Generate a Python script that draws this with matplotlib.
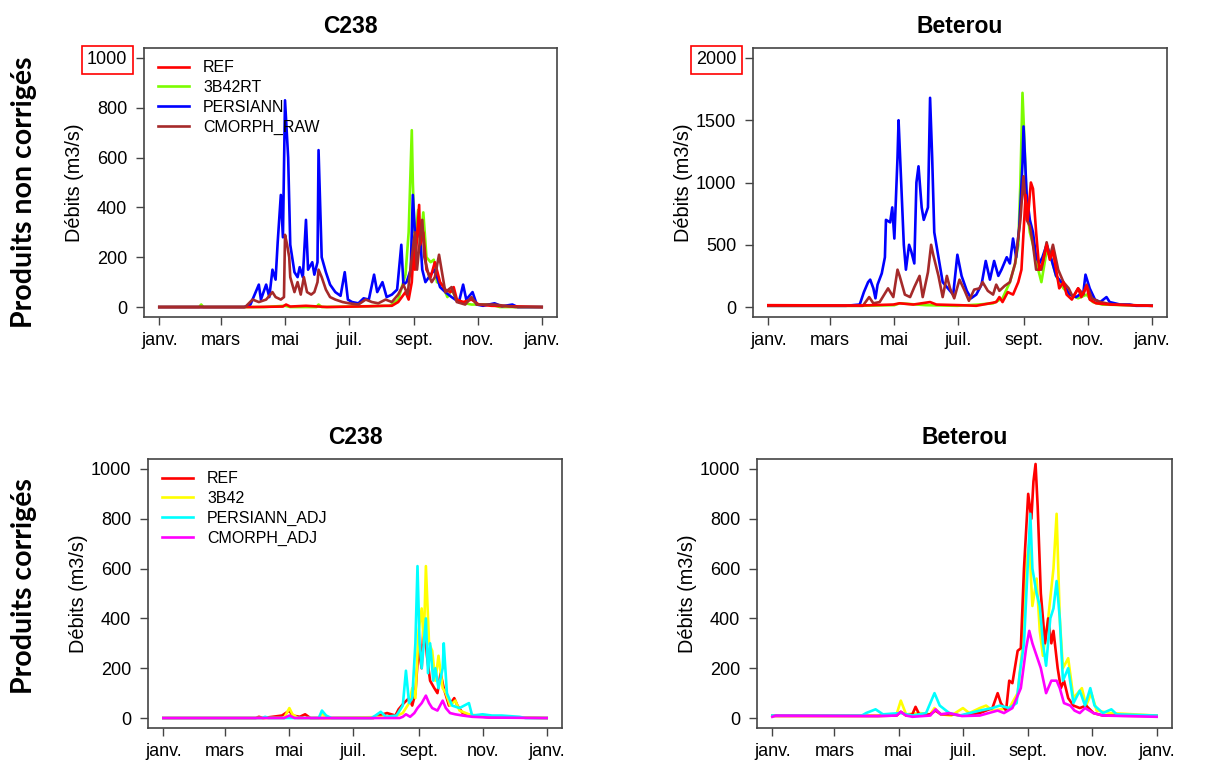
import matplotlib
matplotlib.use('Agg')
import matplotlib.pyplot as plt

# day of year (0 = 1 janv.) and discharge (m3/s)

# --- C238, produits non corrigés ---
c238_raw_ref_days = [0, 90, 118, 121, 125, 140, 160, 200, 215, 222, 228, 235, 238, 241, 243, 244, 248, 249, 252, 255, 259, 263, 268, 273, 278, 281, 284, 290, 298, 305, 317, 365]
c238_raw_ref_q = [0, 0, 2, 10, 2, 5, 0, 3, 5, 5, 20, 60, 30, 100, 250, 150, 410, 250, 300, 150, 120, 180, 100, 70, 60, 80, 30, 20, 30, 10, 5, 0]

c238_raw_3b42rt_days = [0, 38, 40, 42, 100, 120, 125, 150, 152, 155, 220, 228, 235, 238, 241, 242, 244, 247, 249, 252, 255, 259, 262, 265, 270, 275, 279, 284, 292, 298, 317, 325, 365]
c238_raw_3b42rt_q = [0, 0, 10, 0, 0, 5, 0, 0, 10, 0, 5, 30, 130, 300, 710, 500, 250, 390, 250, 380, 200, 180, 190, 100, 90, 40, 70, 30, 15, 10, 10, 0, 0]

c238_raw_persiann_days = [0, 81, 87, 92, 95, 97, 102, 105, 108, 111, 113, 116, 118, 120, 123, 125, 129, 132, 134, 137,
                          140, 142, 146, 148, 151, 152, 155, 159, 163, 168, 173, 177, 180, 184, 190, 195, 200, 205, 208, 213,
                          217, 222, 227, 231, 233, 236, 240, 242, 244, 246, 248, 251, 254, 259, 263, 268, 273, 279, 286, 290,
                          293, 299, 303, 309, 320, 327, 337, 342, 365]
c238_raw_persiann_q = [0, 0, 10, 60, 90, 30, 90, 40, 150, 110, 260, 450, 280, 830, 600, 250, 140, 120, 160, 120,
                       350, 150, 180, 130, 180, 630, 200, 140, 90, 60, 45, 140, 30, 20, 15, 35, 30, 130, 60, 100,
                       40, 50, 70, 250, 90, 100, 150, 450, 300, 280, 350, 150, 100, 130, 150, 80, 60, 40, 20, 90,
                       30, 60, 10, 5, 15, 3, 10, 0, 0]

c238_raw_cmorph_days = [0, 82, 89, 95, 102, 108, 111, 116, 119, 120, 122, 124, 125, 129, 132, 135, 138, 141, 145, 148,
                        151, 152, 155, 159, 163, 168, 175, 181, 190, 197, 203, 209, 216, 222, 228, 233, 237, 241, 244, 246,
                        249, 251, 253, 257, 260, 263, 267, 269, 273, 279, 284, 292, 298, 303, 320, 340, 365]
c238_raw_cmorph_q = [0, 0, 30, 20, 30, 60, 40, 30, 40, 290, 250, 200, 120, 60, 100, 50, 120, 60, 50, 60,
                     100, 150, 120, 70, 40, 30, 20, 15, 10, 30, 20, 15, 30, 20, 50, 90, 50, 200, 300, 150,
                     280, 350, 200, 130, 100, 120, 210, 160, 60, 80, 20, 10, 40, 10, 10, 0, 0]

# --- Beterou, produits non corrigés ---
bet_raw_ref_days = [0, 87, 119, 125, 138, 154, 160, 182, 198, 211, 217, 220, 223, 228, 233, 238, 241, 243, 245, 247,
                    250, 252, 255, 258, 261, 265, 268, 271, 274, 277, 281, 284, 289, 295, 298, 303, 306, 312, 325, 365]
bet_raw_ref_q = [15, 12, 20, 30, 20, 40, 20, 15, 10, 30, 40, 80, 40, 120, 100, 200, 300, 600, 900, 700,
                 1000, 950, 600, 300, 350, 500, 380, 450, 300, 150, 200, 100, 60, 150, 80, 170, 60, 30, 20, 10]

bet_raw_3b42rt_days = [0, 87, 120, 125, 150, 180, 200, 214, 223, 230, 235, 238, 240, 242, 244, 246, 249, 252, 257, 260,
                       265, 269, 274, 281, 287, 295, 303, 309, 318, 365]
bet_raw_3b42rt_q = [10, 10, 15, 30, 15, 10, 20, 30, 70, 200, 350, 500, 1000, 1720, 1300, 800, 600, 500, 300, 200,
                    450, 400, 250, 150, 100, 70, 100, 40, 20, 10]

bet_raw_persiann_days = [0, 74, 87, 91, 95, 97, 100, 102, 104, 108, 111, 112, 116, 118, 120, 123, 124, 127, 129, 131,
                         134, 136, 139, 141, 143, 146, 148, 152, 154, 156, 158, 162, 166, 171, 176, 180, 184, 189, 193, 198,
                         203, 207, 211, 215, 219, 222, 227, 230, 233, 236, 239, 242, 243, 246, 249, 252, 255, 258, 261, 265,
                         269, 274, 281, 287, 293, 300, 302, 306, 311, 316, 322, 325, 335, 344, 350, 365]
bet_raw_persiann_q = [10, 10, 20, 120, 200, 220, 150, 70, 180, 270, 400, 700, 680, 800, 550, 1200, 1500, 900, 500, 300,
                      500, 450, 350, 1000, 1130, 800, 700, 800, 1680, 1200, 600, 400, 200, 150, 100, 420, 250, 130, 70, 100,
                      180, 370, 220, 370, 250, 300, 400, 350, 550, 400, 650, 1150, 1450, 900, 700, 600, 400, 350, 400, 500,
                      400, 250, 180, 100, 80, 120, 260, 150, 60, 40, 80, 40, 20, 20, 10, 10]

bet_raw_cmorph_days = [0, 90, 96, 100, 106, 114, 119, 123, 125, 130, 135, 139, 144, 147, 152, 155, 157, 162, 166, 170,
                       173, 177, 182, 187, 191, 196, 201, 204, 209, 214, 217, 220, 225, 230, 235, 240, 243, 246, 249, 252,
                       255, 260, 265, 268, 271, 276, 281, 286, 290, 295, 300, 303, 308, 316, 328, 365]
bet_raw_cmorph_q = [10, 10, 80, 30, 40, 150, 80, 300, 250, 100, 80, 160, 250, 80, 280, 500, 420, 250, 80, 250,
                    150, 70, 220, 130, 50, 140, 150, 200, 130, 100, 180, 130, 170, 200, 350, 700, 1050, 700, 650, 500,
                    300, 300, 520, 400, 500, 300, 200, 150, 80, 150, 100, 180, 70, 40, 20, 10]

# --- C238, produits corrigés ---
c238_adj_ref_days = [0, 88, 91, 95, 113, 120, 123, 130, 135, 140, 200, 205, 213, 221, 224, 229, 234, 237, 240, 243,
                     246, 248, 251, 254, 258, 261, 264, 267, 272, 277, 280, 285, 294, 310, 365]
c238_adj_ref_q = [0, 0, 5, 0, 10, 30, 10, 5, 15, 0, 0, 10, 20, 10, 35, 60, 80, 50, 100, 280,
                  200, 400, 250, 150, 120, 100, 180, 120, 50, 80, 50, 20, 10, 3, 0]

c238_adj_3b42_days = [0, 115, 120, 123, 128, 148, 151, 155, 220, 228, 234, 237, 240, 243, 246, 248, 250, 253, 256, 259,
                      262, 266, 269, 273, 278, 282, 291, 307, 365]
c238_adj_3b42_q = [0, 0, 40, 15, 0, 0, 20, 0, 5, 20, 60, 120, 80, 350, 440, 300, 610, 300, 270, 150,
                   250, 120, 100, 50, 70, 30, 15, 5, 0]

c238_adj_persiann_days = [0, 94, 97, 100, 148, 151, 155, 160, 198, 202, 207, 212, 222, 228, 231, 234, 237, 240, 242, 244,
                          246, 250, 252, 254, 257, 259, 262, 266, 267, 270, 275, 282, 291, 294, 304, 313, 322, 339, 345, 365]
c238_adj_persiann_q = [0, 0, 5, 0, 0, 30, 10, 0, 0, 10, 25, 5, 10, 50, 190, 60, 80, 300, 610, 300,
                       200, 400, 180, 300, 150, 200, 120, 200, 300, 100, 50, 40, 60, 10, 15, 10, 10, 5, 0, 0]

c238_adj_cmorph_days = [0, 115, 120, 125, 225, 228, 231, 235, 239, 242, 246, 250, 253, 256, 261, 266, 269, 273, 278, 285,
                        294, 310, 365]
c238_adj_cmorph_q = [0, 0, 10, 0, 0, 5, 15, 5, 20, 40, 60, 90, 60, 40, 30, 70, 40, 20, 15, 10, 5, 2, 0]

# --- Beterou, produits corrigés ---
bet_adj_ref_days = [0, 100, 118, 122, 127, 133, 136, 140, 150, 155, 160, 170, 180, 197, 209, 214, 217, 222, 225, 228,
                    233, 236, 239, 243, 246, 248, 250, 252, 255, 259, 262, 265, 267, 271, 274, 277, 281, 286, 292, 298,
                    305, 314, 365]
bet_adj_ref_q = [8, 8, 10, 25, 10, 15, 45, 10, 15, 30, 15, 15, 10, 20, 40, 100, 60, 30, 150, 140,
                 270, 280, 600, 900, 800, 950, 1020, 850, 500, 300, 400, 300, 350, 200, 120, 150, 80, 50, 40, 50,
                 20, 10, 8]

bet_adj_3b42_days = [0, 100, 118, 122, 127, 140, 150, 154, 160, 170, 181, 187, 197, 203, 209, 225, 233, 238, 241, 244,
                     247, 251, 254, 257, 262, 267, 270, 273, 276, 281, 286, 294, 298, 303, 308, 321, 365]
bet_adj_3b42_q = [10, 10, 15, 70, 15, 20, 15, 40, 15, 10, 40, 20, 40, 50, 30, 40, 100, 300, 620, 700,
                  450, 560, 350, 250, 400, 600, 820, 400, 200, 240, 80, 120, 50, 100, 30, 20, 10]

bet_adj_persiann_days = [0, 85, 89, 98, 105, 122, 133, 146, 154, 159, 168, 178, 197, 209, 216, 225, 232, 235, 239, 243,
                         245, 247, 251, 254, 257, 260, 264, 267, 270, 273, 276, 281, 286, 292, 297, 302, 306, 314, 322, 327,
                         365]
bet_adj_persiann_q = [10, 10, 20, 35, 15, 20, 10, 20, 100, 50, 20, 10, 30, 40, 50, 40, 60, 180, 300, 650,
                      820, 600, 500, 450, 300, 210, 400, 440, 550, 400, 150, 200, 60, 110, 50, 120, 50, 20, 35, 15,
                      10]

bet_adj_cmorph_days = [0, 3, 100, 118, 122, 127, 133, 150, 155, 160, 168, 180, 197, 214, 220, 228, 232, 236, 241, 244,
                       247, 251, 255, 260, 265, 270, 273, 277, 283, 287, 292, 297, 305, 314, 365]
bet_adj_cmorph_q = [5, 10, 8, 10, 25, 10, 5, 10, 35, 15, 20, 8, 10, 30, 20, 40, 80, 120, 280, 350,
                    300, 250, 200, 100, 150, 150, 120, 60, 50, 30, 20, 40, 20, 10, 5]

month_days = [0, 59, 120, 181, 243, 304, 365]
month_labels = ['janv.', 'mars', 'mai', 'juil.', 'sept.', 'nov.', 'janv.']

plt.rcParams['font.family'] = ['Liberation Sans', 'DejaVu Sans']

W, H = 1222, 766
fig = plt.figure(figsize=(W / 100, H / 100), dpi=100)


def make_axes(left, top, right, bottom, title, ymax, ystep):
    ax = fig.add_axes([left / W, 1 - bottom / H, (right - left) / W, (bottom - top) / H])
    ax.set_xlim(-0.04 * 365, 365 * 1.04)
    ax.set_ylim(-0.04 * ymax, ymax * 1.04)
    yt = list(range(0, ymax + 1, ystep))
    ax.set_yticks(yt, [str(v) for v in yt])
    ax.set_xticks(month_days, month_labels)
    ax.tick_params(direction='out', length=6, width=1, color='#444444', labelsize=13, pad=5)
    ax.tick_params(axis='y', pad=6)
    for s in ax.spines.values():
        s.set_color('#444444')
        s.set_linewidth(1.2)
    ax.set_ylabel('Débits (m3/s)', fontsize=14.3, labelpad=2)
    ax.set_title(title, fontsize=16.5, fontweight='bold', pad=11)
    return ax


lw = 1.9
leg_kw = dict(loc='upper left', bbox_to_anchor=(0.035, 0.955), frameon=False, fontsize=11.5,
              handlelength=1.9, handletextpad=0.9, labelspacing=0.3, borderpad=0, borderaxespad=0)

# C238 raw
ax1 = make_axes(144, 48, 557, 317, 'C238', 1000, 200)
ax1.plot(c238_raw_3b42rt_days, c238_raw_3b42rt_q, color='#7cfc00', lw=lw, label='3B42RT')
ax1.plot(c238_raw_persiann_days, c238_raw_persiann_q, color='#0000ff', lw=lw, label='PERSIANN')
ax1.plot(c238_raw_ref_days, c238_raw_ref_q, color='#ff0000', lw=lw, label='REF')
ax1.plot(c238_raw_cmorph_days, c238_raw_cmorph_q, color='#a52a2a', lw=lw, label='CMORPH_RAW')
h, l = ax1.get_legend_handles_labels()
order = [2, 0, 1, 3]
ax1.legend([h[i] for i in order], [l[i] for i in order], **leg_kw)

# Beterou raw
ax2 = make_axes(753, 48, 1167, 317, 'Beterou', 2000, 500)
ax2.plot(bet_raw_3b42rt_days, bet_raw_3b42rt_q, color='#7cfc00', lw=lw)
ax2.plot(bet_raw_persiann_days, bet_raw_persiann_q, color='#0000ff', lw=lw)
ax2.plot(bet_raw_cmorph_days, bet_raw_cmorph_q, color='#a52a2a', lw=lw)
ax2.plot(bet_raw_ref_days, bet_raw_ref_q, color='#ff0000', lw=lw)

# C238 corrected
ax3 = make_axes(148, 459, 562, 728, 'C238', 1000, 200)
ax3.plot(c238_adj_ref_days, c238_adj_ref_q, color='#ff0000', lw=lw, label='REF')
ax3.plot(c238_adj_3b42_days, c238_adj_3b42_q, color='#ffff00', lw=lw, label='3B42')
ax3.plot(c238_adj_persiann_days, c238_adj_persiann_q, color='#00ffff', lw=lw, label='PERSIANN_ADJ')
ax3.plot(c238_adj_cmorph_days, c238_adj_cmorph_q, color='#ff00ff', lw=lw, label='CMORPH_ADJ')
ax3.legend(**leg_kw)

# Beterou corrected
ax4 = make_axes(757, 459, 1172, 728, 'Beterou', 1000, 200)
ax4.plot(bet_adj_3b42_days, bet_adj_3b42_q, color='#ffff00', lw=lw)
ax4.plot(bet_adj_ref_days, bet_adj_ref_q, color='#ff0000', lw=lw)
ax4.plot(bet_adj_persiann_days, bet_adj_persiann_q, color='#00ffff', lw=lw)
ax4.plot(bet_adj_cmorph_days, bet_adj_cmorph_q, color='#ff00ff', lw=lw)

# red frames around the top tick labels of the uncorrected panels
for ax in (ax1, ax2):
    ax.get_yticklabels()[-1].set_bbox(dict(boxstyle='square,pad=0.3', fc='none', ec='red', lw=1.2))

fig.text(24 / W, 1 - 192 / H, 'Produits non corrigés', rotation=90, ha='center', va='center',
         fontsize=20.5, fontweight='bold', family='Lato')
fig.text(24 / W, 1 - 586 / H, 'Produits corrigés', rotation=90, ha='center', va='center',
         fontsize=20.5, fontweight='bold', family='Lato')

fig.savefig('out.png', dpi=100)
